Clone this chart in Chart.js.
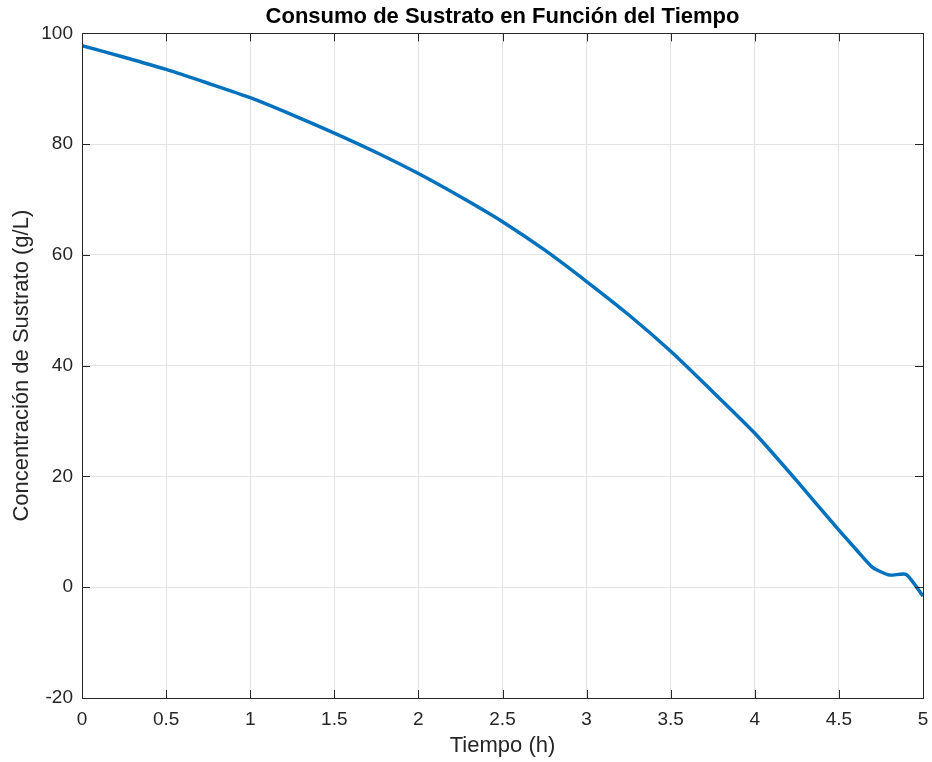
<!DOCTYPE html>
<html>
<head>
<meta charset="utf-8">
<script src="https://cdn.jsdelivr.net/npm/chart.js@4.4.0/dist/chart.umd.min.js"></script>
<style>
  html, body { margin: 0; padding: 0; background: #fff; }
  #wrap { width: 932px; height: 762px; }
</style>
</head>
<body>
<div id="wrap"><canvas id="grafico"></canvas></div>
<script>
// valori
const tiempo = [0, 0.25, 0.5, 0.75, 1, 1.25, 1.5, 1.75, 2, 2.25, 2.5, 2.75, 3, 3.25, 3.5, 3.75, 4, 4.25, 4.5, 4.6, 4.7, 4.8, 4.9, 5];
const sustrato = [97.8, 95.7, 93.5, 91.0, 88.4, 85.3, 82.0, 78.5, 74.7, 70.5, 66.0, 60.9, 55.2, 49.2, 42.6, 35.3, 27.8, 19.2, 10.3, 6.9, 3.6, 2.2, 2.3, -1.6];
const xTicks = [0, 0.5, 1, 1.5, 2, 2.5, 3, 3.5, 4, 4.5, 5];
const yTicks = [-20, 0, 20, 40, 60, 80, 100];

const colAssi = '#262626';
const font = 'Liberation Sans, Arial, sans-serif';

// box e tacche interne stile matlab
const boxPlugin = {
  id: 'box',
  afterDraw(chart) {
    const ctx = chart.ctx;
    const a = chart.chartArea;
    const sx = chart.scales.x, sy = chart.scales.y;
    ctx.save();
    ctx.strokeStyle = colAssi;
    ctx.lineWidth = 1;
    ctx.beginPath();
    for (const t of xTicks) {
      const px = Math.round(sx.getPixelForValue(t)) + 0.5;
      ctx.moveTo(px, a.bottom); ctx.lineTo(px, a.bottom - 8);
      ctx.moveTo(px, a.top); ctx.lineTo(px, a.top + 8);
    }
    for (const v of yTicks) {
      const py = Math.round(sy.getPixelForValue(v)) + 0.5;
      ctx.moveTo(a.left, py); ctx.lineTo(a.left + 8, py);
      ctx.moveTo(a.right, py); ctx.lineTo(a.right - 8, py);
    }
    ctx.stroke();
    ctx.strokeRect(Math.round(a.left) + 0.5, Math.round(a.top) + 0.5, Math.round(a.right - a.left), Math.round(a.bottom - a.top));
    ctx.restore();
  }
};

let punti = tiempo.map((t, i) => ({ x: t, y: sustrato[i] }));

new Chart(document.getElementById('grafico'), {
  type: 'line',
  data: {
    datasets: [{
      data: punti,
      borderColor: '#0072BD',
      borderWidth: 3.5,
      pointRadius: 0,
      tension: 0.2,
      fill: false
    }]
  },
  options: {
    responsive: true,
    maintainAspectRatio: false,
    animation: false,
    layout: { padding: { right: 9, left: 0 } },
    plugins: {
      legend: { display: false },
      tooltip: { enabled: false },
      title: {
        display: true,
        fullSize: false,
        text: 'Consumo de Sustrato en Función del Tiempo',
        color: '#000',
        font: { family: font, size: 22, weight: 'bold' },
        padding: { top: 4, bottom: 3 }
      }
    },
    scales: {
      x: {
        type: 'linear',
        min: 0, max: 5,
        afterBuildTicks(s) { s.ticks = xTicks.map(v => ({ value: v })); },
        afterFit(s) { s.height = 64; s.paddingLeft = 0; s.paddingRight = 0; },
        ticks: {
          color: colAssi,
          font: { family: font, size: 19 },
          padding: 10,
          maxRotation: 0,
          callback: v => String(v)
        },
        grid: { color: '#e3e3e3', drawTicks: false },
        border: { display: false },
        title: {
          display: true,
          text: 'Tiempo (h)',
          color: colAssi,
          font: { family: font, size: 22 },
          padding: { top: 0, bottom: 3 }
        }
      },
      y: {
        min: -20, max: 100,
        afterBuildTicks(s) { s.ticks = yTicks.map(v => ({ value: v })); },
        afterFit(s) { s.width = 82; },
        ticks: {
          color: colAssi,
          font: { family: font, size: 19 },
          padding: 9
        },
        grid: { color: '#e3e3e3', drawTicks: false },
        border: { display: false },
        title: {
          display: true,
          text: 'Concentración de Sustrato (g/L)',
          color: colAssi,
          font: { family: font, size: 22 },
          padding: { top: 9, bottom: 0 }
        }
      }
    }
  },
  plugins: [boxPlugin]
});
</script>
</body>
</html>
